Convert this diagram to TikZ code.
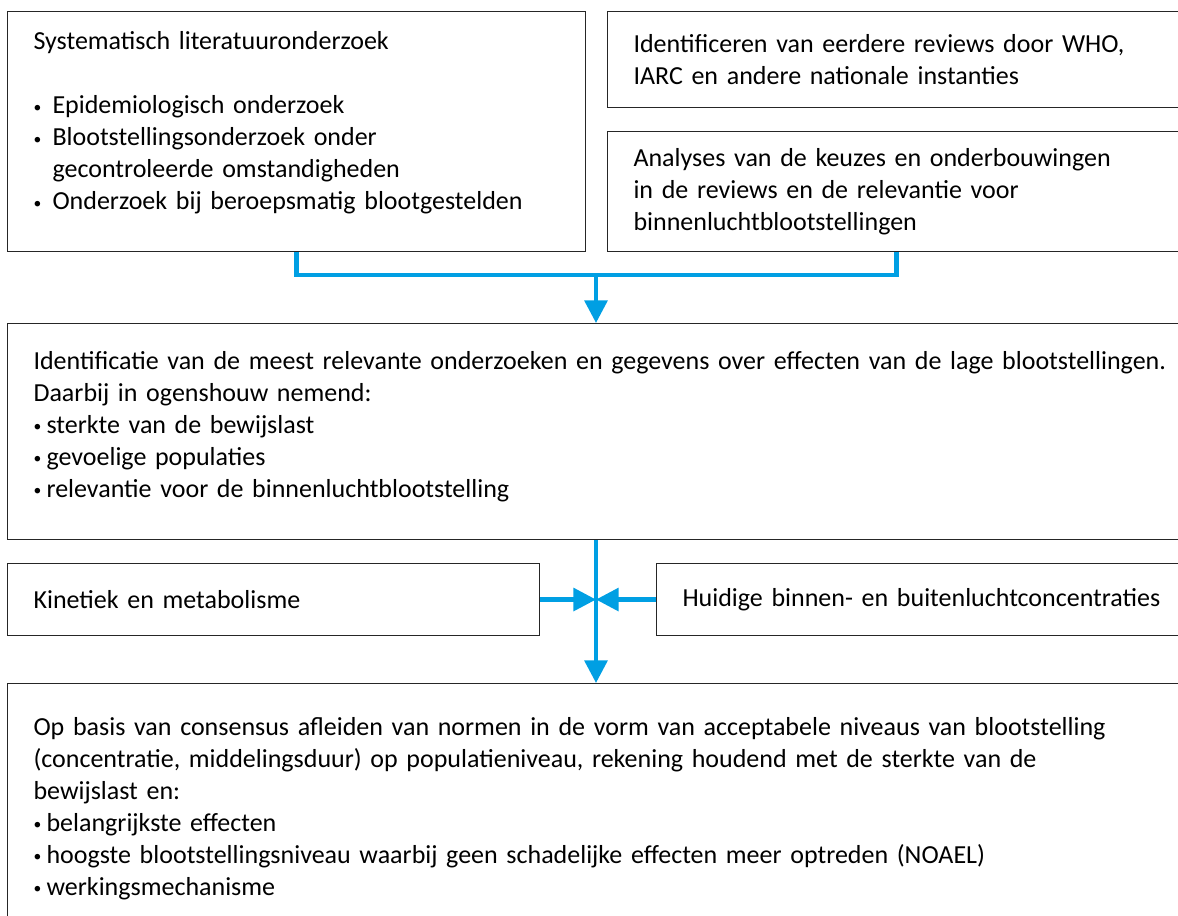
\documentclass[tikz,border=0pt]{standalone}
\usepackage{fontspec}
\setmainfont{Carlito}
\usetikzlibrary{arrows.meta, positioning}
\definecolor{flowblue}{RGB}{0,159,227}
\newcommand{\dotitem}[1][9.75pt]{\makebox[#1][l]{\raisebox{0.06em}{\scalebox{0.6}{•}}}}

\begin{document}
\begin{tikzpicture}[
        x=0.75pt, y=-0.75pt,
        box/.style={draw=black!85, line width=0.8pt, anchor=north west, align=left,
                    inner xsep=19.5pt, inner ysep=0pt, font=\fontsize{19.5}{24}\selectfont},
        line/.style={draw=flowblue, line width=3.2pt},
        flow/.style={line, -{Triangle[length=17pt, width=17pt]}}
    ]
        \useasboundingbox (0,0) rectangle (1178,915);
        \clip (0,0) rectangle (1178,915);

        \node[box, text width=394.5pt, minimum height=180pt] (litsearch) at (7,11)
            {Systematisch literatuuronderzoek\\[24pt]
             \dotitem[14.25pt]Epidemiologisch onderzoek\\
             \dotitem[14.25pt]Blootstellingsonderzoek onder\\
             \hspace*{14.25pt}gecontroleerde omstandigheden\\
             \dotitem[14.25pt]Onderzoek bij beroepsmatig blootgestelden\rule[-16.5pt]{0pt}{0pt}};
        \node[box, text width=394.5pt, minimum height=72pt] (reviews) at (607,11)
            {Identificeren van eerdere reviews door WHO,\\IARC en andere nationale instanties};
        \node[box, text width=394.5pt, minimum height=90pt] (analysis) at (607,131)
            {Analyses van de keuzes en onderbouwingen\\in de reviews en de relevantie voor\\binnenluchtblootstellingen};

        \node[box, text width=900pt, minimum height=162pt] (selection) at (7,323)
            {Identificatie van de meest relevante onderzoeken en gegevens over effecten van de lage blootstellingen.\\
             Daarbij in ogenshouw nemend:\\
             \dotitem sterkte van de bewijslast\\
             \dotitem gevoelige populaties\\
             \dotitem relevantie voor de binnenluchtblootstelling\rule[-11pt]{0pt}{0pt}};

        \node[box, text width=360pt, minimum height=54pt] (kinetics) at (7,563)
            {Kinetiek en metabolisme};
        \node[box, text width=391.5pt, minimum height=54pt] (concentrations) at (656,563)
            {Huidige binnen- en buitenluchtconcentraties};

        \node[box, text width=900pt, minimum height=187.5pt] (norms) at (7,683)
            {Op basis van consensus afleiden van normen in de vorm van acceptabele niveaus van blootstelling\\
             (concentratie, middelingsduur) op populatieniveau, rekening houdend met de sterkte van de\\
             bewijslast en:\\
             \dotitem belangrijkste effecten\\
             \dotitem hoogste blootstellingsniveau waarbij geen schadelijke effecten meer optreden (NOAEL)\\
             \dotitem werkingsmechanisme};

        \coordinate (merge) at (596,275);
        \coordinate (join) at (merge |- kinetics.east);

        \draw[line] (litsearch.south) |- (merge);
        \draw[line] (analysis.south) |- (merge);
        \draw[flow] (merge) -- (merge |- selection.north);

        \draw[flow] (merge |- selection.south) -- (merge |- norms.north);
        \draw[flow] (kinetics.east) -- (join);
        \draw[flow] (concentrations.west) -- (join);
    \end{tikzpicture}
\end{document}
